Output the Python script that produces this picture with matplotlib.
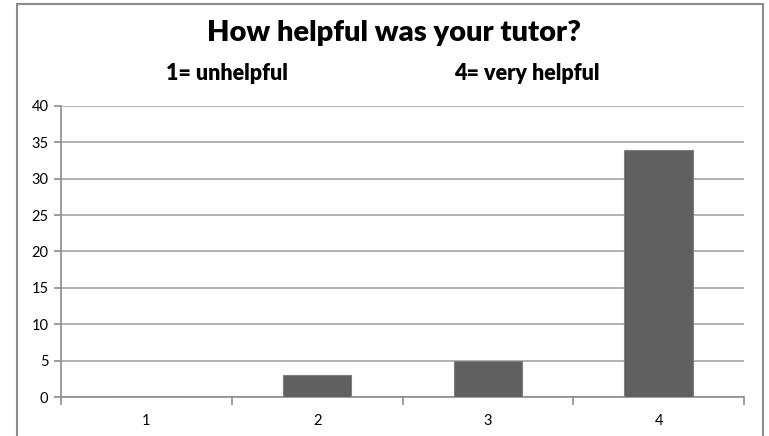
import matplotlib
matplotlib.use('Agg')
from matplotlib import pyplot as plt
from matplotlib.patches import Rectangle
import numpy as np

categories = ['1', '2', '3', '4']
counts = [0, 3, 5, 34]
yticks = [0, 5, 10, 15, 20, 25, 30, 35, 40]

plt.rcParams['font.family'] = ['Lato', 'DejaVu Sans']

W, H = 769, 436
fig = plt.figure(figsize=(W / 100, H / 100), dpi=100)
fig.patch.set_facecolor('white')

# outer chart border
fig.patches.append(Rectangle((17 / W, -0.02), (763 - 17) / W, 1.02 - 4 / H,
                             transform=fig.transFigure, fill=False,
                             edgecolor='#8c8c8c', linewidth=1.5))

ax = fig.add_axes([61 / W, (H - 397) / H, (744 - 61) / W, (397 - 106) / H])
x = np.arange(len(categories))
ax.bar(x, counts, width=0.4, color='#606060', edgecolor='#7f7f7f', linewidth=0.8, zorder=3)

ax.set_xlim(-0.5, len(categories) - 0.5)
ax.set_ylim(0, 40)
ax.set_yticks(yticks)
ax.yaxis.grid(True, color='#a6a6a6', linewidth=1.2, zorder=0)
ax.set_xticks(np.arange(len(categories) + 1) - 0.5)
ax.set_xticklabels([])
ax.set_xticks(x, minor=True)
ax.set_xticklabels(categories, minor=True)
ax.tick_params(axis='x', which='major', direction='out', length=6, color='#8c8c8c', width=1.2)
ax.tick_params(axis='x', which='minor', length=0, pad=12, labelsize=10.5)
ax.tick_params(axis='y', direction='out', length=5, color='#8c8c8c', width=1.2, labelsize=10.5, pad=4)
for s in ['top', 'right']:
    ax.spines[s].set_visible(False)
for s in ['left', 'bottom']:
    ax.spines[s].set_color('#8c8c8c')
    ax.spines[s].set_linewidth(1.2)

fig.text(394 / W, 1 - 33 / H, 'How helpful was your tutor?', ha='center', va='center',
         fontsize=21, fontweight='heavy')
fig.text(227 / W, 1 - 73 / H, '1= unhelpful', ha='center', va='center',
         fontsize=15.5, fontweight='heavy')
fig.text(527 / W, 1 - 73 / H, '4= very helpful', ha='center', va='center',
         fontsize=15.5, fontweight='heavy')

fig.savefig('out.png', dpi=100)
